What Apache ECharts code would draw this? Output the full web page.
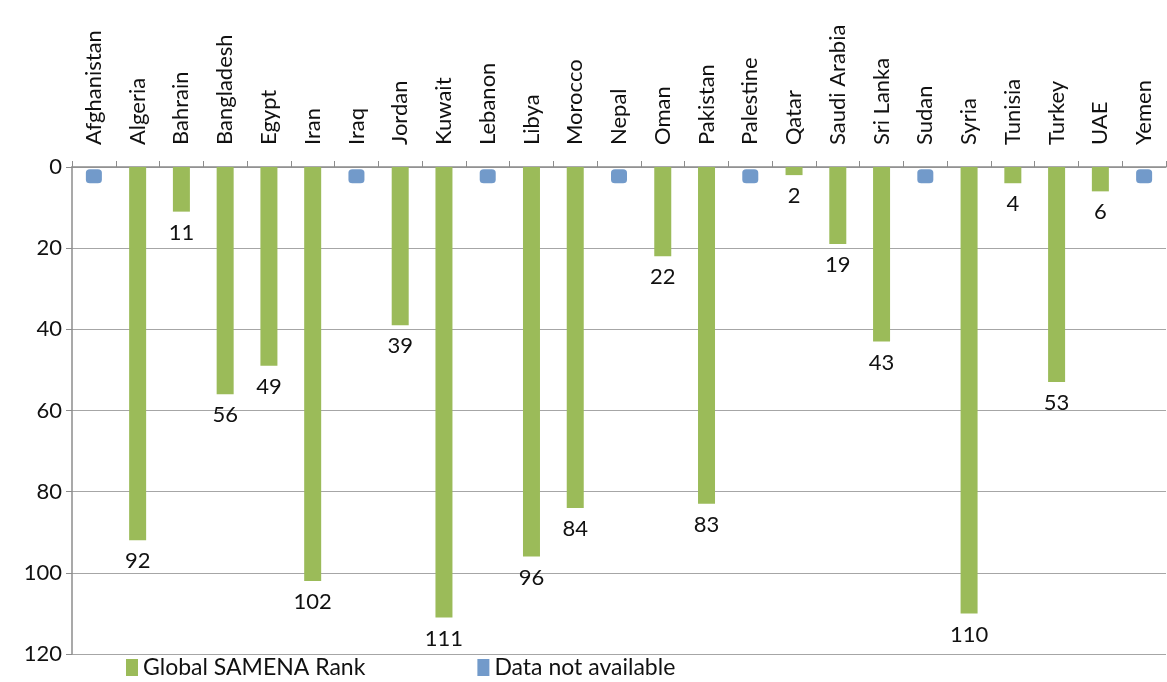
<!DOCTYPE html>
<html>
<head>
<meta charset="utf-8">
<script src="https://cdn.jsdelivr.net/npm/echarts@6/dist/echarts.min.js"></script>
<style>html,body{margin:0;padding:0;background:#fff}#c{width:1167px;height:682px}</style>
</head>
<body>
<div id="c"></div>
<script>
const categories = ["Afghanistan","Algeria","Bahrain","Bangladesh","Egypt","Iran","Iraq","Jordan","Kuwait","Lebanon","Libya","Morocco","Nepal","Oman","Pakistan","Palestine","Qatar","Saudi Arabia","Sri Lanka","Sudan","Syria","Tunisia","Turkey","UAE","Yemen"];
const samenaRank = [null,92,11,56,49,102,null,39,111,null,96,84,null,22,83,null,2,19,43,null,110,4,53,6,null];
const notAvailable = [2.3,null,null,null,null,null,2.3,null,null,2.3,null,null,2.3,null,null,2.3,null,null,null,2.3,null,null,null,null,2.3];
const yTicks = [0,20,40,60,80,100,120];

const FONT = 'Lato';
const chart = echarts.init(document.getElementById('c'));
chart.setOption({
  animation: false,
  textStyle: {fontFamily: FONT},
  grid: {left: 72, right: 1, top: 167, bottom: 28, containLabel: false},
  legend: {
    bottom: -2, left: 121,
    itemWidth: 12, itemHeight: 17, itemGap: 112,
    textStyle: {fontSize: 23, color: '#111', fontFamily: FONT},
    data: [{name: 'Global SAMENA Rank', icon: 'rect'}, {name: 'Data not available', icon: 'rect'}]
  },
  xAxis: {
    type: 'category', position: 'top', data: categories,
    boundaryGap: true,
    axisLine: {lineStyle: {color: '#8c8c8c', width: 1.5}},
    axisTick: {show: true, inside: false, length: 6, lineStyle: {color: '#8c8c8c'}},
    axisLabel: {rotate: 90, fontSize: 22, color: '#111', margin: 22, interval: 0, fontFamily: FONT}
  },
  yAxis: {
    type: 'value', inverse: true, min: yTicks[0], max: yTicks[yTicks.length-1], interval: 20,
    axisLine: {show: true, lineStyle: {color: '#8c8c8c', width: 1.5}},
    axisTick: {show: true, length: 6, lineStyle: {color: '#8c8c8c'}},
    axisLabel: {fontSize: 22, color: '#111', margin: 10, fontFamily: FONT},
    splitLine: {show: true, lineStyle: {color: '#a6a6a6', width: 1.2}}
  },
  series: [
    {
      name: 'Global SAMENA Rank', type: 'bar', data: samenaRank, barWidth: 17,
      itemStyle: {color: '#9BBB59'},
      label: {show: true, position: 'bottom', distance: 10, fontSize: 22, color: '#111', fontFamily: FONT}
    },
    {
      name: 'Data not available', type: 'scatter', data: notAvailable,
      symbol: 'roundRect', symbolSize: [16, 14],
      itemStyle: {color: '#4F81BD'}
    }
  ]
});
</script>
</body>
</html>
